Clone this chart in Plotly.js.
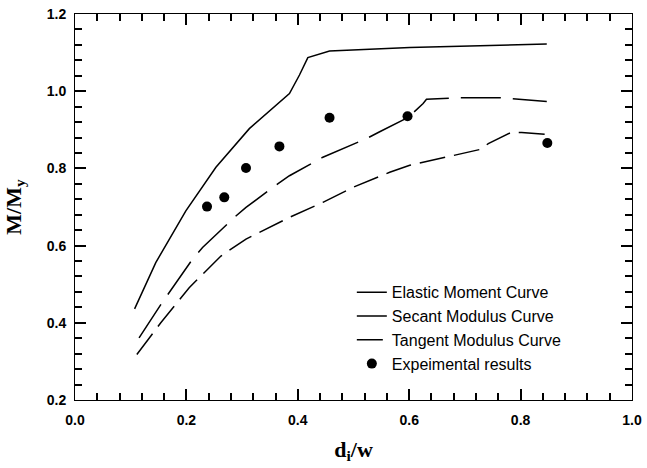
<!DOCTYPE html>
<html>
<head>
<meta charset="utf-8">
<script src="https://cdn.plot.ly/plotly-3.0.1.min.js"></script>
<style>html,body{margin:0;padding:0;background:#fff;}#chart{width:647px;height:468px;}</style>
</head>
<body>
<div id="chart"></div>
<script>
// Elastic moment curve
const elasticX = [0.107, 0.145, 0.199, 0.253, 0.313, 0.385, 0.403, 0.418, 0.457, 0.547, 0.601, 0.847];
const elasticY = [0.436, 0.556, 0.690, 0.803, 0.903, 0.994, 1.042, 1.087, 1.104, 1.110, 1.113, 1.122];
// Secant modulus curve
const secantX = [0.115, 0.154, 0.211, 0.229, 0.286, 0.307, 0.364, 0.385, 0.445, 0.466, 0.523, 0.547, 0.598, 0.625, 0.631, 0.685, 0.763, 0.847];
const secantY = [0.361, 0.447, 0.565, 0.595, 0.673, 0.699, 0.760, 0.781, 0.829, 0.842, 0.877, 0.895, 0.932, 0.968, 0.979, 0.983, 0.983, 0.973];
// Tangent modulus curve
const tangentX = [0.111, 0.154, 0.205, 0.262, 0.307, 0.385, 0.445, 0.499, 0.565, 0.601, 0.727, 0.742, 0.784, 0.802, 0.847];
const tangentY = [0.318, 0.400, 0.491, 0.573, 0.617, 0.673, 0.712, 0.751, 0.790, 0.808, 0.849, 0.864, 0.894, 0.893, 0.888];
// Experimental results
const expX = [0.237, 0.268, 0.307, 0.367, 0.457, 0.597, 0.848];
const expY = [0.701, 0.725, 0.801, 0.857, 0.931, 0.935, 0.866];

const seriesNames = ["Elastic Moment Curve", "Secant Modulus Curve", "Tangent Modulus Curve", "Expeimental results"];

// Tick labels
const xTickVals = [0.0, 0.2, 0.4, 0.6, 0.8, 1.0];
const xTickText = ["0.0", "0.2", "0.4", "0.6", "0.8", "1.0"];
const yTickVals = [0.2, 0.4, 0.6, 0.8, 1.0, 1.2];
const yTickText = ["0.2", "0.4", "0.6", "0.8", "1.0", "1.2"];
const minorStep = 0.04;

const traces = [
  {x: elasticX, y: elasticY, name: seriesNames[0], mode: 'lines', line: {color: '#000', width: 1.5}},
  {x: secantX, y: secantY, name: seriesNames[1], mode: 'lines', line: {color: '#000', width: 1.5, dash: '40px,12px'}},
  {x: tangentX, y: tangentY, name: seriesNames[2], mode: 'lines', line: {color: '#000', width: 1.5, dash: '26px,9px'}},
  {x: expX, y: expY, name: seriesNames[3], mode: 'markers', marker: {color: '#000', size: 10}}
];

const tickFont = {family: 'Liberation Sans, Arial, sans-serif', size: 14, color: '#000'};
const titleFont = {family: 'Liberation Serif, Times New Roman, serif', size: 22, color: '#000'};

const axisCommon = {
  showgrid: false, zeroline: false,
  showline: true, linecolor: '#000', mirror: 'ticks',
  ticks: 'inside', ticklen: 11, tickwidth: 2, tickcolor: '#000',
  tickfont: tickFont, tickmode: 'array'
};

const layout = {
  width: 647, height: 468,
  margin: {l: 75, r: 15, t: 14, b: 68},
  xaxis: Object.assign({}, axisCommon, {
    range: [0, 1], tickvals: xTickVals, ticktext: xTickText.map(t => '<b>' + t + '</b>'), ticklabelstandoff: 7,
    minor: {tick0: xTickVals[0], dtick: minorStep, ticks: 'inside', ticklen: 7, tickwidth: 2, tickcolor: '#000', showgrid: false},
    title: {text: '<b>d<sub>i</sub>/w</b>', font: titleFont, standoff: 14}
  }),
  yaxis: Object.assign({}, axisCommon, {
    range: [0.2, 1.2], tickvals: yTickVals, ticktext: yTickText.map(t => '<b>' + t + '</b>'), ticklabelstandoff: 5,
    minor: {tick0: yTickVals[0], dtick: minorStep, ticks: 'inside', ticklen: 7, tickwidth: 2, tickcolor: '#000', showgrid: false},
    title: {text: '<b>M/M<sub>y</sub></b>', font: titleFont, standoff: 19}
  }),
  legend: {
    x: 0.497, y: 0.323, xanchor: 'left', yanchor: 'top',
    bgcolor: 'rgba(0,0,0,0)', borderwidth: 0,
    font: {family: 'Liberation Sans, Arial, sans-serif', size: 16, color: '#000'},
    tracegroupgap: 0
  },
  showlegend: true
};

Plotly.newPlot('chart', traces, layout, {displayModeBar: false});
</script>
</body>
</html>
